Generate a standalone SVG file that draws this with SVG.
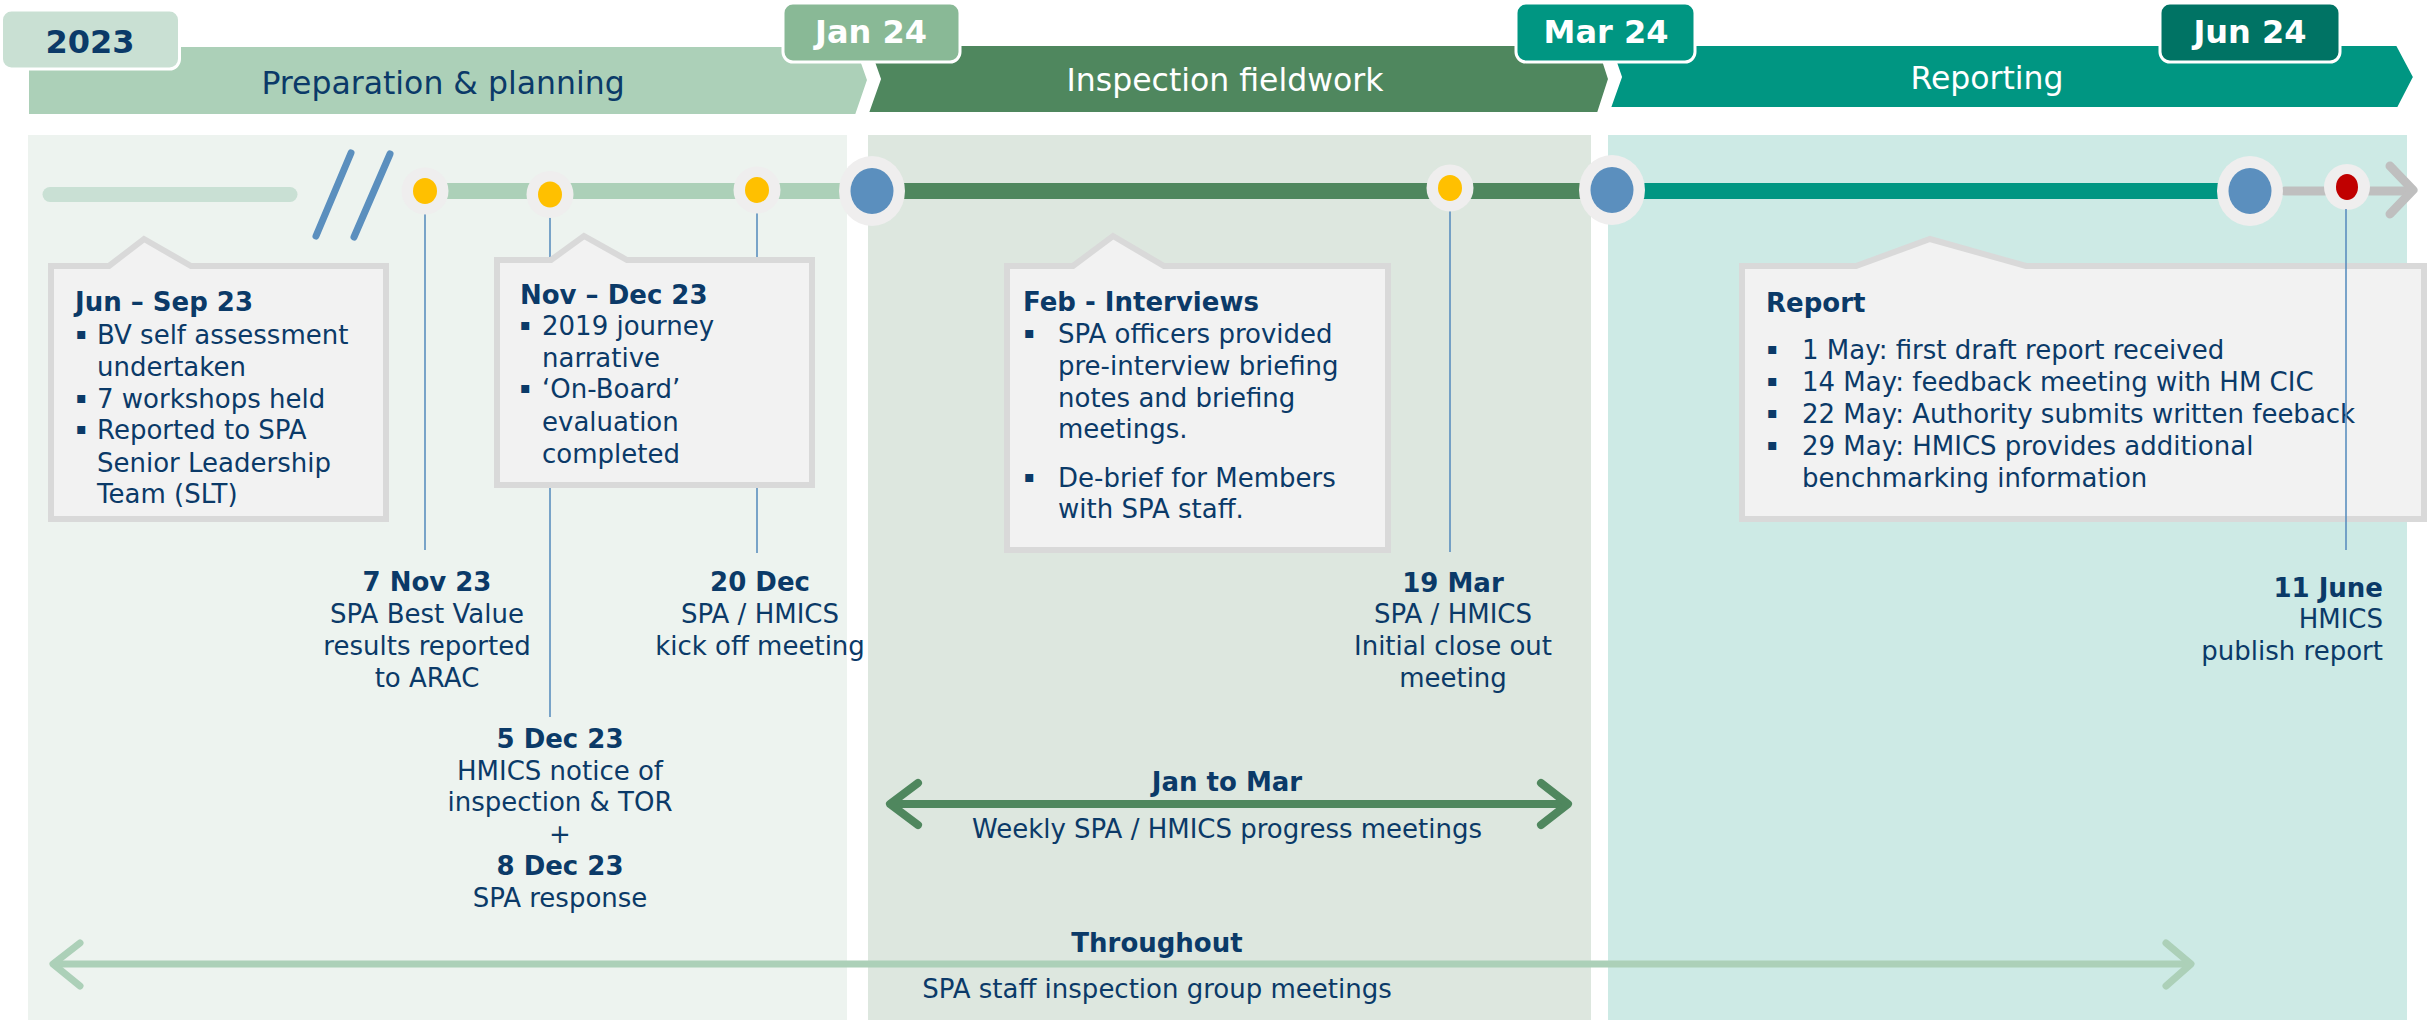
<svg xmlns="http://www.w3.org/2000/svg" width="2430" height="1020" viewBox="0 0 2430 1020">
  <defs>
    <style>
      text { font-family: "DejaVu Sans", Verdana, "Liberation Sans", sans-serif; fill: #0b3a68; }
      .b { font-weight: bold; }
      .w { fill: #ffffff; }
      .t26 { font-size: 26px; }
      .bul { font-size: 16px; }
      .phase { font-size: 31.5px; }
      .tab { font-size: 32px; font-weight: bold; }
      .mid { text-anchor: middle; }
      .end { text-anchor: end; }
      .tabbox { stroke: #ffffff; stroke-width: 3; }
      .bar { stroke: #ffffff; stroke-width: 2; }
      .callout { fill: #f2f2f2; stroke: #d9d9d9; stroke-width: 6; stroke-linejoin: miter; }
      .halo { fill: #efeeee; }
      .dot-y { fill: #ffc000; }
      .dot-b { fill: #5b8fbe; }
      .dot-r { fill: #c00000; }
      .lead { stroke: #5b8fbe; stroke-width: 1.6; fill: none; }
      .head { fill: none; stroke-linecap: round; stroke-linejoin: round; }
    </style>
  </defs>

  <rect width="2430" height="1020" fill="#ffffff"/>

  <!-- phase panels -->
  <g id="panels">
    <rect x="28" y="135" width="819" height="885" fill="#edf3ef"/>
    <rect x="868" y="135" width="723" height="885" fill="#dde7df"/>
    <rect x="1608" y="135" width="799" height="885" fill="#cdeae5"/>
  </g>

  <!-- phase chevrons -->
  <g id="phase-preparation">
    <path class="bar" d="M28,46 H856 L868,80 L856,115 H28 Z" fill="#acd0b8"/>
    <text class="phase mid" x="443" y="94">Preparation &amp; planning</text>
  </g>
  <g id="phase-fieldwork">
    <path class="bar" d="M868,45 H1598 L1609,79 L1598,113 H868 L880,79 Z" fill="#4f875e"/>
    <text class="phase mid w" x="1225" y="91">Inspection fieldwork</text>
  </g>
  <g id="phase-reporting">
    <path class="bar" d="M1610,45 H2397 L2414,77 L2398,108 H1610 L1621,77 Z" fill="#009682"/>
    <text class="phase mid w" x="1987" y="89">Reporting</text>
  </g>

  <!-- date tabs -->
  <g id="tab-2023">
    <rect class="tabbox" x="1.5" y="10" width="178" height="59" rx="10" fill="#c9e0d3"/>
    <text class="tab mid" x="90" y="53">2023</text>
  </g>
  <g id="tab-jan24">
    <rect class="tabbox" x="783" y="3" width="177" height="59" rx="10" fill="#89b996"/>
    <text class="tab mid w" x="871" y="43">Jan 24</text>
  </g>
  <g id="tab-mar24">
    <rect class="tabbox" x="1516" y="3" width="179" height="59" rx="10" fill="#009682"/>
    <text class="tab mid w" x="1606" y="43">Mar 24</text>
  </g>
  <g id="tab-jun24">
    <rect class="tabbox" x="2160" y="3" width="180" height="59" rx="10" fill="#007364"/>
    <text class="tab mid w" x="2250" y="43">Jun 24</text>
  </g>

  <!-- timeline and connectors -->
  <g id="connectors">
    <line x1="50" y1="194.5" x2="290" y2="194.5" stroke="#c9e0d4" stroke-width="15" stroke-linecap="round"/>
    <line x1="351" y1="153" x2="316" y2="236" stroke="#5b8fbe" stroke-width="7" stroke-linecap="round"/>
    <line x1="390" y1="154" x2="354" y2="237" stroke="#5b8fbe" stroke-width="7" stroke-linecap="round"/>
    <line x1="425" y1="191" x2="872" y2="191" stroke="#acd0b8" stroke-width="16"/>
    <line x1="872" y1="191" x2="1612" y2="191" stroke="#4f875e" stroke-width="16"/>
    <line x1="1612" y1="191" x2="2250" y2="191" stroke="#009682" stroke-width="16"/>
    <line x1="2285" y1="191" x2="2408" y2="191" stroke="#bfbfbf" stroke-width="9" stroke-linecap="round"/>
    <polyline class="head" points="2390,166 2413,190 2390,214" stroke="#bfbfbf" stroke-width="9"/>

    <line class="lead" x1="425" y1="212" x2="425" y2="550"/>
    <line class="lead" x1="550" y1="217" x2="550" y2="717"/>
    <line class="lead" x1="757" y1="212" x2="757" y2="553"/>
    <line class="lead" x1="1450" y1="210" x2="1450" y2="552"/>

    <!-- Jan to Mar range -->
    <line x1="893" y1="804" x2="1565" y2="804" stroke="#4f875e" stroke-width="8"/>
    <polyline class="head" points="918,783 890,804 918,825" stroke="#4f875e" stroke-width="8"/>
    <polyline class="head" points="1541,783 1568,804 1541,825" stroke="#4f875e" stroke-width="8"/>

    <!-- Throughout range -->
    <line x1="56" y1="964" x2="2188" y2="964" stroke="#acd0b8" stroke-width="7"/>
    <polyline class="head" points="80,943 53,964 80,986" stroke="#acd0b8" stroke-width="7"/>
    <polyline class="head" points="2166,943 2191,964 2166,986" stroke="#acd0b8" stroke-width="7"/>
  </g>

  <!-- timeline markers -->
  <g id="marker-7nov">
    <circle class="halo" cx="425" cy="191" r="23.5"/>
    <ellipse class="dot-y" cx="425" cy="191" rx="12" ry="13"/>
  </g>
  <g id="marker-5dec">
    <circle class="halo" cx="550" cy="194.5" r="23.5"/>
    <ellipse class="dot-y" cx="550" cy="194.5" rx="12" ry="13"/>
  </g>
  <g id="marker-20dec">
    <circle class="halo" cx="757" cy="190" r="23.5"/>
    <ellipse class="dot-y" cx="757" cy="190" rx="12" ry="13"/>
  </g>
  <g id="marker-jan24">
    <ellipse class="halo" cx="872" cy="191" rx="33" ry="35"/>
    <ellipse class="dot-b" cx="872" cy="191" rx="21.5" ry="23"/>
  </g>
  <g id="marker-19mar">
    <circle class="halo" cx="1450" cy="188" r="23.5"/>
    <ellipse class="dot-y" cx="1450" cy="188" rx="12" ry="13"/>
  </g>
  <g id="marker-mar24">
    <ellipse class="halo" cx="1612" cy="190" rx="33" ry="35"/>
    <ellipse class="dot-b" cx="1612" cy="190" rx="21.5" ry="23"/>
  </g>
  <g id="marker-jun24">
    <ellipse class="halo" cx="2250" cy="191" rx="33" ry="35"/>
    <ellipse class="dot-b" cx="2250" cy="191" rx="21.5" ry="23"/>
  </g>
  <g id="marker-11june">
    <circle class="halo" cx="2347" cy="187" r="23"/>
    <ellipse class="dot-r" cx="2347" cy="187" rx="11" ry="13"/>
  </g>

  <!-- callouts -->
  <g id="callout-jun-sep">
    <path class="callout" d="M51,266 H109 L144,239 L191,266 H386 V519 H51 Z"/>
    <text class="t26 b" x="75" y="311">Jun – Sep 23</text>
    <text class="t26">
      <tspan class="bul" x="76" y="339">▪</tspan><tspan x="97" y="344">BV self assessment</tspan>
      <tspan x="97" y="376">undertaken</tspan>
      <tspan class="bul" x="76" y="403">▪</tspan><tspan x="97" y="408">7 workshops held</tspan>
      <tspan class="bul" x="76" y="434">▪</tspan><tspan x="97" y="439">Reported to SPA</tspan>
      <tspan x="97" y="472">Senior Leadership</tspan>
      <tspan x="97" y="503">Team (SLT)</tspan>
    </text>
  </g>
  <g id="callout-nov-dec">
    <path class="callout" d="M497,260 H551 L584,236 L627,260 H812 V485 H497 Z"/>
    <text class="t26 b" x="520" y="304">Nov – Dec 23</text>
    <text class="t26">
      <tspan class="bul" x="520" y="330">▪</tspan><tspan x="542" y="335">2019 journey</tspan>
      <tspan x="542" y="367">narrative</tspan>
      <tspan class="bul" x="520" y="393">▪</tspan><tspan x="542" y="398">‘On-Board’</tspan>
      <tspan x="542" y="431">evaluation</tspan>
      <tspan x="542" y="463">completed</tspan>
    </text>
  </g>
  <g id="callout-feb">
    <path class="callout" d="M1007,266 H1073 L1113,236 L1164,266 H1388 V550 H1007 Z"/>
    <text class="t26 b" x="1023" y="311">Feb - Interviews</text>
    <text class="t26">
      <tspan class="bul" x="1024" y="338">▪</tspan><tspan x="1058" y="343">SPA officers provided</tspan>
      <tspan x="1058" y="375">pre-interview briefing</tspan>
      <tspan x="1058" y="407">notes and briefing</tspan>
      <tspan x="1058" y="438">meetings.</tspan>
      <tspan class="bul" x="1024" y="482">▪</tspan><tspan x="1058" y="487">De-brief for Members</tspan>
      <tspan x="1058" y="518">with SPA staff.</tspan>
    </text>
  </g>
  <g id="callout-report">
    <path class="callout" d="M1742,266 H1856 L1930,239 L2026,266 H2424 V519 H1742 Z"/>
    <text class="t26 b" x="1766" y="312">Report</text>
    <text class="t26">
      <tspan class="bul" x="1767" y="354">▪</tspan><tspan x="1802" y="359">1 May: first draft report received</tspan>
      <tspan class="bul" x="1767" y="386">▪</tspan><tspan x="1802" y="391">14 May: feedback meeting with HM CIC</tspan>
      <tspan class="bul" x="1767" y="418">▪</tspan><tspan x="1802" y="423">22 May: Authority submits written feeback</tspan>
      <tspan class="bul" x="1767" y="450">▪</tspan><tspan x="1802" y="455">29 May: HMICS provides additional</tspan>
      <tspan x="1802" y="487">benchmarking information</tspan>
    </text>
  </g>
  <line class="lead" x1="2346" y1="209" x2="2346" y2="550"/>

  <!-- milestone labels -->
  <g id="label-7nov">
    <text class="t26 mid"><tspan class="b" x="427" y="591">7 Nov 23</tspan><tspan x="427" y="623">SPA Best Value</tspan><tspan x="427" y="655">results reported</tspan><tspan x="427" y="687">to ARAC</tspan></text>
  </g>
  <g id="label-20dec">
    <text class="t26 mid"><tspan class="b" x="760" y="591">20 Dec</tspan><tspan x="760" y="623">SPA / HMICS</tspan><tspan x="760" y="655">kick off meeting</tspan></text>
  </g>
  <g id="label-5dec">
    <text class="t26 mid"><tspan class="b" x="560" y="748">5 Dec 23</tspan><tspan x="560" y="780">HMICS notice of</tspan><tspan x="560" y="811">inspection &amp; TOR</tspan><tspan x="560" y="843">+</tspan><tspan class="b" x="560" y="875">8 Dec 23</tspan><tspan x="560" y="907">SPA response</tspan></text>
  </g>
  <g id="label-19mar">
    <text class="t26 mid"><tspan class="b" x="1453" y="592">19 Mar</tspan><tspan x="1453" y="623">SPA / HMICS</tspan><tspan x="1453" y="655">Initial close out</tspan><tspan x="1453" y="687">meeting</tspan></text>
  </g>
  <g id="label-11june">
    <text class="t26 end"><tspan class="b" x="2383" y="597">11 June</tspan><tspan x="2383" y="628">HMICS</tspan><tspan x="2383" y="660">publish report</tspan></text>
  </g>
  <g id="label-jan-mar">
    <text class="t26 mid"><tspan class="b" x="1227" y="791">Jan to Mar</tspan><tspan x="1227" y="838">Weekly SPA / HMICS progress meetings</tspan></text>
  </g>
  <g id="label-throughout">
    <text class="t26 mid"><tspan class="b" x="1157" y="952">Throughout</tspan><tspan x="1157" y="998">SPA staff inspection group meetings</tspan></text>
  </g>
</svg>
